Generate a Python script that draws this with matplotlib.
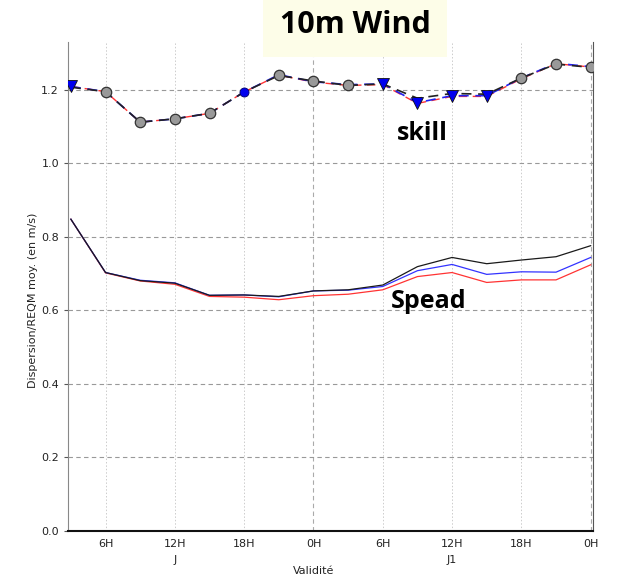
import matplotlib
matplotlib.use("Agg")
import matplotlib.pyplot as plt
import matplotlib.transforms as mtransforms
from matplotlib.ticker import MultipleLocator

# ---- data ----
lead_hours = [3, 6, 9, 12, 15, 18, 21, 24, 27, 30, 33, 36, 39, 42, 45, 48]

skill_black = [1.207, 1.195, 1.112, 1.121, 1.136, 1.194, 1.239, 1.224, 1.212, 1.216, 1.177, 1.190, 1.188, 1.232, 1.270, 1.261]
skill_blue  = [1.209, 1.195, 1.112, 1.121, 1.136, 1.194, 1.241, 1.222, 1.214, 1.216, 1.165, 1.184, 1.184, 1.232, 1.272, 1.263]
skill_red   = [1.209, 1.195, 1.112, 1.121, 1.136, 1.194, 1.240, 1.221, 1.212, 1.214, 1.163, 1.182, 1.182, 1.230, 1.271, 1.262]

circle_idx = [1, 2, 3, 4, 6, 7, 8, 13, 14, 15]   # grey circles (black series)
triangle_idx = [0, 9, 10, 11, 12]               # blue triangles (blue series)
bluedot_idx = [5]                               # blue dot (blue series)

spread_black = [0.848, 0.703, 0.681, 0.674, 0.641, 0.642, 0.638, 0.653, 0.656, 0.669, 0.719, 0.744, 0.727, 0.737, 0.746, 0.776]
spread_blue  = [0.848, 0.703, 0.682, 0.675, 0.641, 0.642, 0.637, 0.653, 0.655, 0.665, 0.708, 0.725, 0.698, 0.705, 0.704, 0.744]
spread_red   = [0.848, 0.702, 0.680, 0.671, 0.638, 0.636, 0.629, 0.640, 0.644, 0.656, 0.692, 0.703, 0.676, 0.683, 0.683, 0.724]

tick_hours = [6, 12, 18, 24, 30, 36, 42, 48]
tick_labels = ["6H", "12H", "18H", "0H", "6H", "12H", "18H", "0H"]
day_positions = [12, 36]
day_labels = ["J", "J1"]

# ---- figure ----
fig = plt.figure(figsize=(6.18, 5.77), dpi=100)
ax = fig.add_axes([68/618, 1-531/577, (593-68)/618, (531-42)/577])

ax.set_xlim(2.75, 48.2)
ax.set_ylim(0.0, 1.33)

# grid
ax.yaxis.set_major_locator(MultipleLocator(0.2))
ax.grid(axis="y", color="#999999", linestyle=(0, (4, 3)), linewidth=0.8)
for h in [6, 12, 18, 30, 36, 42]:
    ax.axvline(h, color="#cccccc", linestyle=(0, (1.5, 2)), linewidth=0.7, zorder=0)
for h in [24, 48]:
    ax.axvline(h, color="#aaaaaa", linestyle=(0, (4, 3)), linewidth=0.8, zorder=0)

# spread lines
ax.plot(lead_hours, spread_red, color="#ff3333", lw=0.9, zorder=3)
ax.plot(lead_hours, spread_blue, color="#3333ff", lw=0.9, zorder=3)
ax.plot(lead_hours, spread_black, color="#1a1a1a", lw=0.9, zorder=4)

# skill lines
ax.plot(lead_hours, skill_red, color="#ff3333", lw=1.0, linestyle=(0, (6, 4)), zorder=3)
ax.plot(lead_hours, skill_blue, color="#2222ee", lw=1.2, linestyle=(0, (6, 4)), zorder=3)
ax.plot(lead_hours, skill_black, color="#222222", lw=1.2, linestyle=(0, (6, 4)), zorder=4)

ax.plot([lead_hours[i] for i in circle_idx], [skill_black[i] for i in circle_idx],
        linestyle="none", marker="o", ms=7.5, mfc="#999999", mec="#333333", mew=0.9, zorder=5)
ax.plot([lead_hours[i] for i in triangle_idx], [skill_blue[i] for i in triangle_idx],
        linestyle="none", marker="v", ms=8, mfc="#0000ee", mec="#111111", mew=0.6, zorder=6)
ax.plot([lead_hours[i] for i in bluedot_idx], [skill_blue[i] for i in bluedot_idx],
        linestyle="none", marker="o", ms=6.5, mfc="#0000ee", mec="#000066", mew=0.6, zorder=6)

# spines
ax.spines["top"].set_visible(False)
ax.spines["left"].set_color("#888888")
ax.spines["right"].set_color("#555555")
ax.spines["bottom"].set_color("#111111")
ax.spines["bottom"].set_linewidth(1.5)

ax.set_xticks(tick_hours)
ax.set_xticklabels(tick_labels, fontsize=8, color="#222222")
ax.tick_params(axis="x", length=0, pad=6)
ax.tick_params(axis="y", labelsize=8, length=3, color="#555555", labelcolor="#222222")
ax.yaxis.set_major_formatter(matplotlib.ticker.FormatStrFormatter("%.1f"))

trans = mtransforms.blended_transform_factory(ax.transData, ax.transAxes)
for pos, lab in zip(day_positions, day_labels):
    ax.text(pos, -0.06, lab, transform=trans, ha="center", va="center", fontsize=8, color="#222222")
ax.text(24, -0.082, "Validité", transform=trans, ha="center", va="center", fontsize=8, color="#222222")

fig.text(33/618, 1-300/577, "Dispersion/REQM moy. (en m/s)", rotation=90,
         ha="center", va="center", fontsize=8, color="#222222")

# annotations
fig.text(355/618, 1-25/577, "10m Wind", ha="center", va="center", fontsize=22,
         fontweight="bold", family="Open Sans", color="black", zorder=10,
         bbox=dict(boxstyle="square,pad=0.55", facecolor="#fdfde8", edgecolor="none"))
fig.text(422/618, 1-133/577, "skill", ha="center", va="center", fontsize=18,
         fontweight="bold", family="Open Sans", color="black")
fig.text(429/618, 1-301/577, "Spead", ha="center", va="center", fontsize=18,
         fontweight="bold", family="Open Sans", color="black")

fig.savefig("out.png", dpi=100)
